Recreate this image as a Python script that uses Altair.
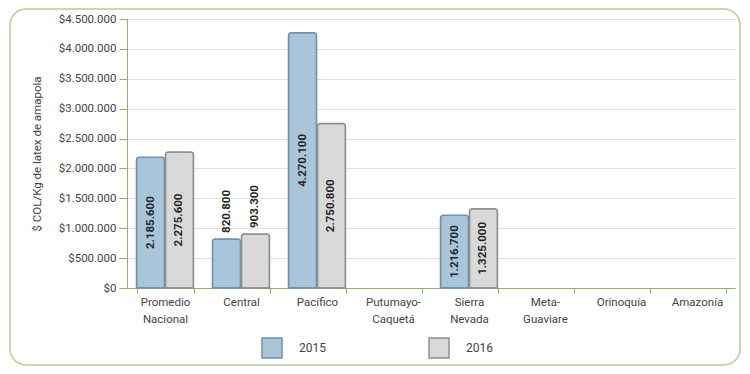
import altair as alt
import pandas as pd

categories = ["Promedio Nacional", "Central", "Pacífico", "Putumayo-Caquetá",
              "Sierra Nevada", "Meta-Guaviare", "Orinoquía", "Amazonía"]
years = ["2015", "2016"]
values_2015 = [2185600, 820800, 4270100, None, 1216700, None, None, None]
values_2016 = [2275600, 903300, 2750800, None, 1325000, None, None, None]
y_ticks = [0, 500000, 1000000, 1500000, 2000000, 2500000, 3000000, 3500000, 4000000, 4500000]
y_title = "$ COL/Kg de latex de amapola"

rows = []
for c, a, b in zip(categories, values_2015, values_2016):
    if a is not None:
        rows.append({"region": c, "year": "2015", "value": a})
    if b is not None:
        rows.append({"region": c, "year": "2016", "value": b})
df = pd.DataFrame(rows)

GREEN = "#8fb563"
fmt = "replace(format(datum.value, ','), /,/g, '.')"

x_axis = alt.Axis(title=None, labelAngle=0, tickBand="extent",
                  labelExpr="split(replace(replace(datum.label, ' ', '|'), '-', '-|'), '|')",
                  domainColor=GREEN, tickColor=GREEN, tickSize=5,
                  labelFont="Roboto", labelFontSize=11.5, labelColor="#444",
                  labelLineHeight=17, labelPadding=3, labelBaseline="top")
x_scale = alt.Scale(domain=categories, paddingInner=0.25, paddingOuter=0.125)
y_scale = alt.Scale(domain=[0, 4500000], nice=False)
y_axis = alt.Axis(values=y_ticks, title=y_title,
                  labelExpr="'$' + " + fmt,
                  domainColor=GREEN, tickColor=GREEN, tickSize=8, labelPadding=3,
                  gridColor="#e0e0e0", labelFont="Roboto", labelFontSize=11.5,
                  labelColor="#444", titleFont="Roboto", titleFontSize=11.5,
                  titleColor="#444", titleFontWeight="normal", titlePadding=16)

x_enc = alt.X("region:N", sort=categories, scale=x_scale, axis=x_axis)
xo_enc = alt.XOffset("year:N", scale=alt.Scale(domain=years, paddingInner=0.03))

base = alt.Chart(df)

bars = base.mark_bar(strokeWidth=1.5, cornerRadiusTopLeft=3, cornerRadiusTopRight=3).encode(
    x=x_enc,
    xOffset=xo_enc,
    y=alt.Y("value:Q", scale=y_scale, axis=y_axis),
    fill=alt.Fill("year:N", scale=alt.Scale(domain=years, range=["#a9c5da", "#d9d9d9"]),
                  legend=alt.Legend(title=None)),
    stroke=alt.Stroke("year:N", scale=alt.Scale(domain=years, range=["#6f91ab", "#8e8e8e"]),
                      legend=alt.Legend(title=None)),
)

inside = base.transform_filter("datum.value >= 1000000").transform_calculate(
    mid="datum.value / 2", lab=fmt
).mark_text(angle=270, align="center", baseline="middle", fontWeight="bold",
            fontSize=11.5, font="Roboto", color="#262626").encode(
    x=x_enc,
    xOffset=xo_enc,
    y=alt.Y("mid:Q", scale=y_scale, axis=y_axis),
    text="lab:N",
)

above = base.transform_filter("datum.value < 1000000").transform_calculate(
    lab=fmt
).mark_text(angle=270, align="left", baseline="middle", fontWeight="bold",
            fontSize=11.5, font="Roboto", color="#262626", dx=6).encode(
    x=x_enc,
    xOffset=xo_enc,
    y=alt.Y("value:Q", scale=y_scale, axis=y_axis),
    text="lab:N",
)

frame = alt.Chart(alt.Data(values=[{"k": 1}])).mark_rect(
    fillOpacity=0, stroke="#b6cd92", strokeWidth=1.5, cornerRadius=16
).encode(x=alt.value(-117), x2=alt.value(613), y=alt.value(-10), y2=alt.value(346))

chart = alt.layer(bars, inside, above, frame).properties(
    width=608, height=269,
    autosize=alt.AutoSizeParams(type="none"),
    padding={"left": 119, "top": 11, "right": 7, "bottom": 78},
).configure_view(stroke=None).configure_legend(
    orient="none", legendX=134, legendY=318, direction="horizontal",
    symbolType="square", symbolSize=400, symbolStrokeWidth=1.5,
    labelFont="Roboto", labelFontSize=12, labelColor="#444",
    labelOffset=16, columnPadding=100, padding=0,
)

chart.save("out.html", embed_options={"renderer": "svg", "actions": False})
